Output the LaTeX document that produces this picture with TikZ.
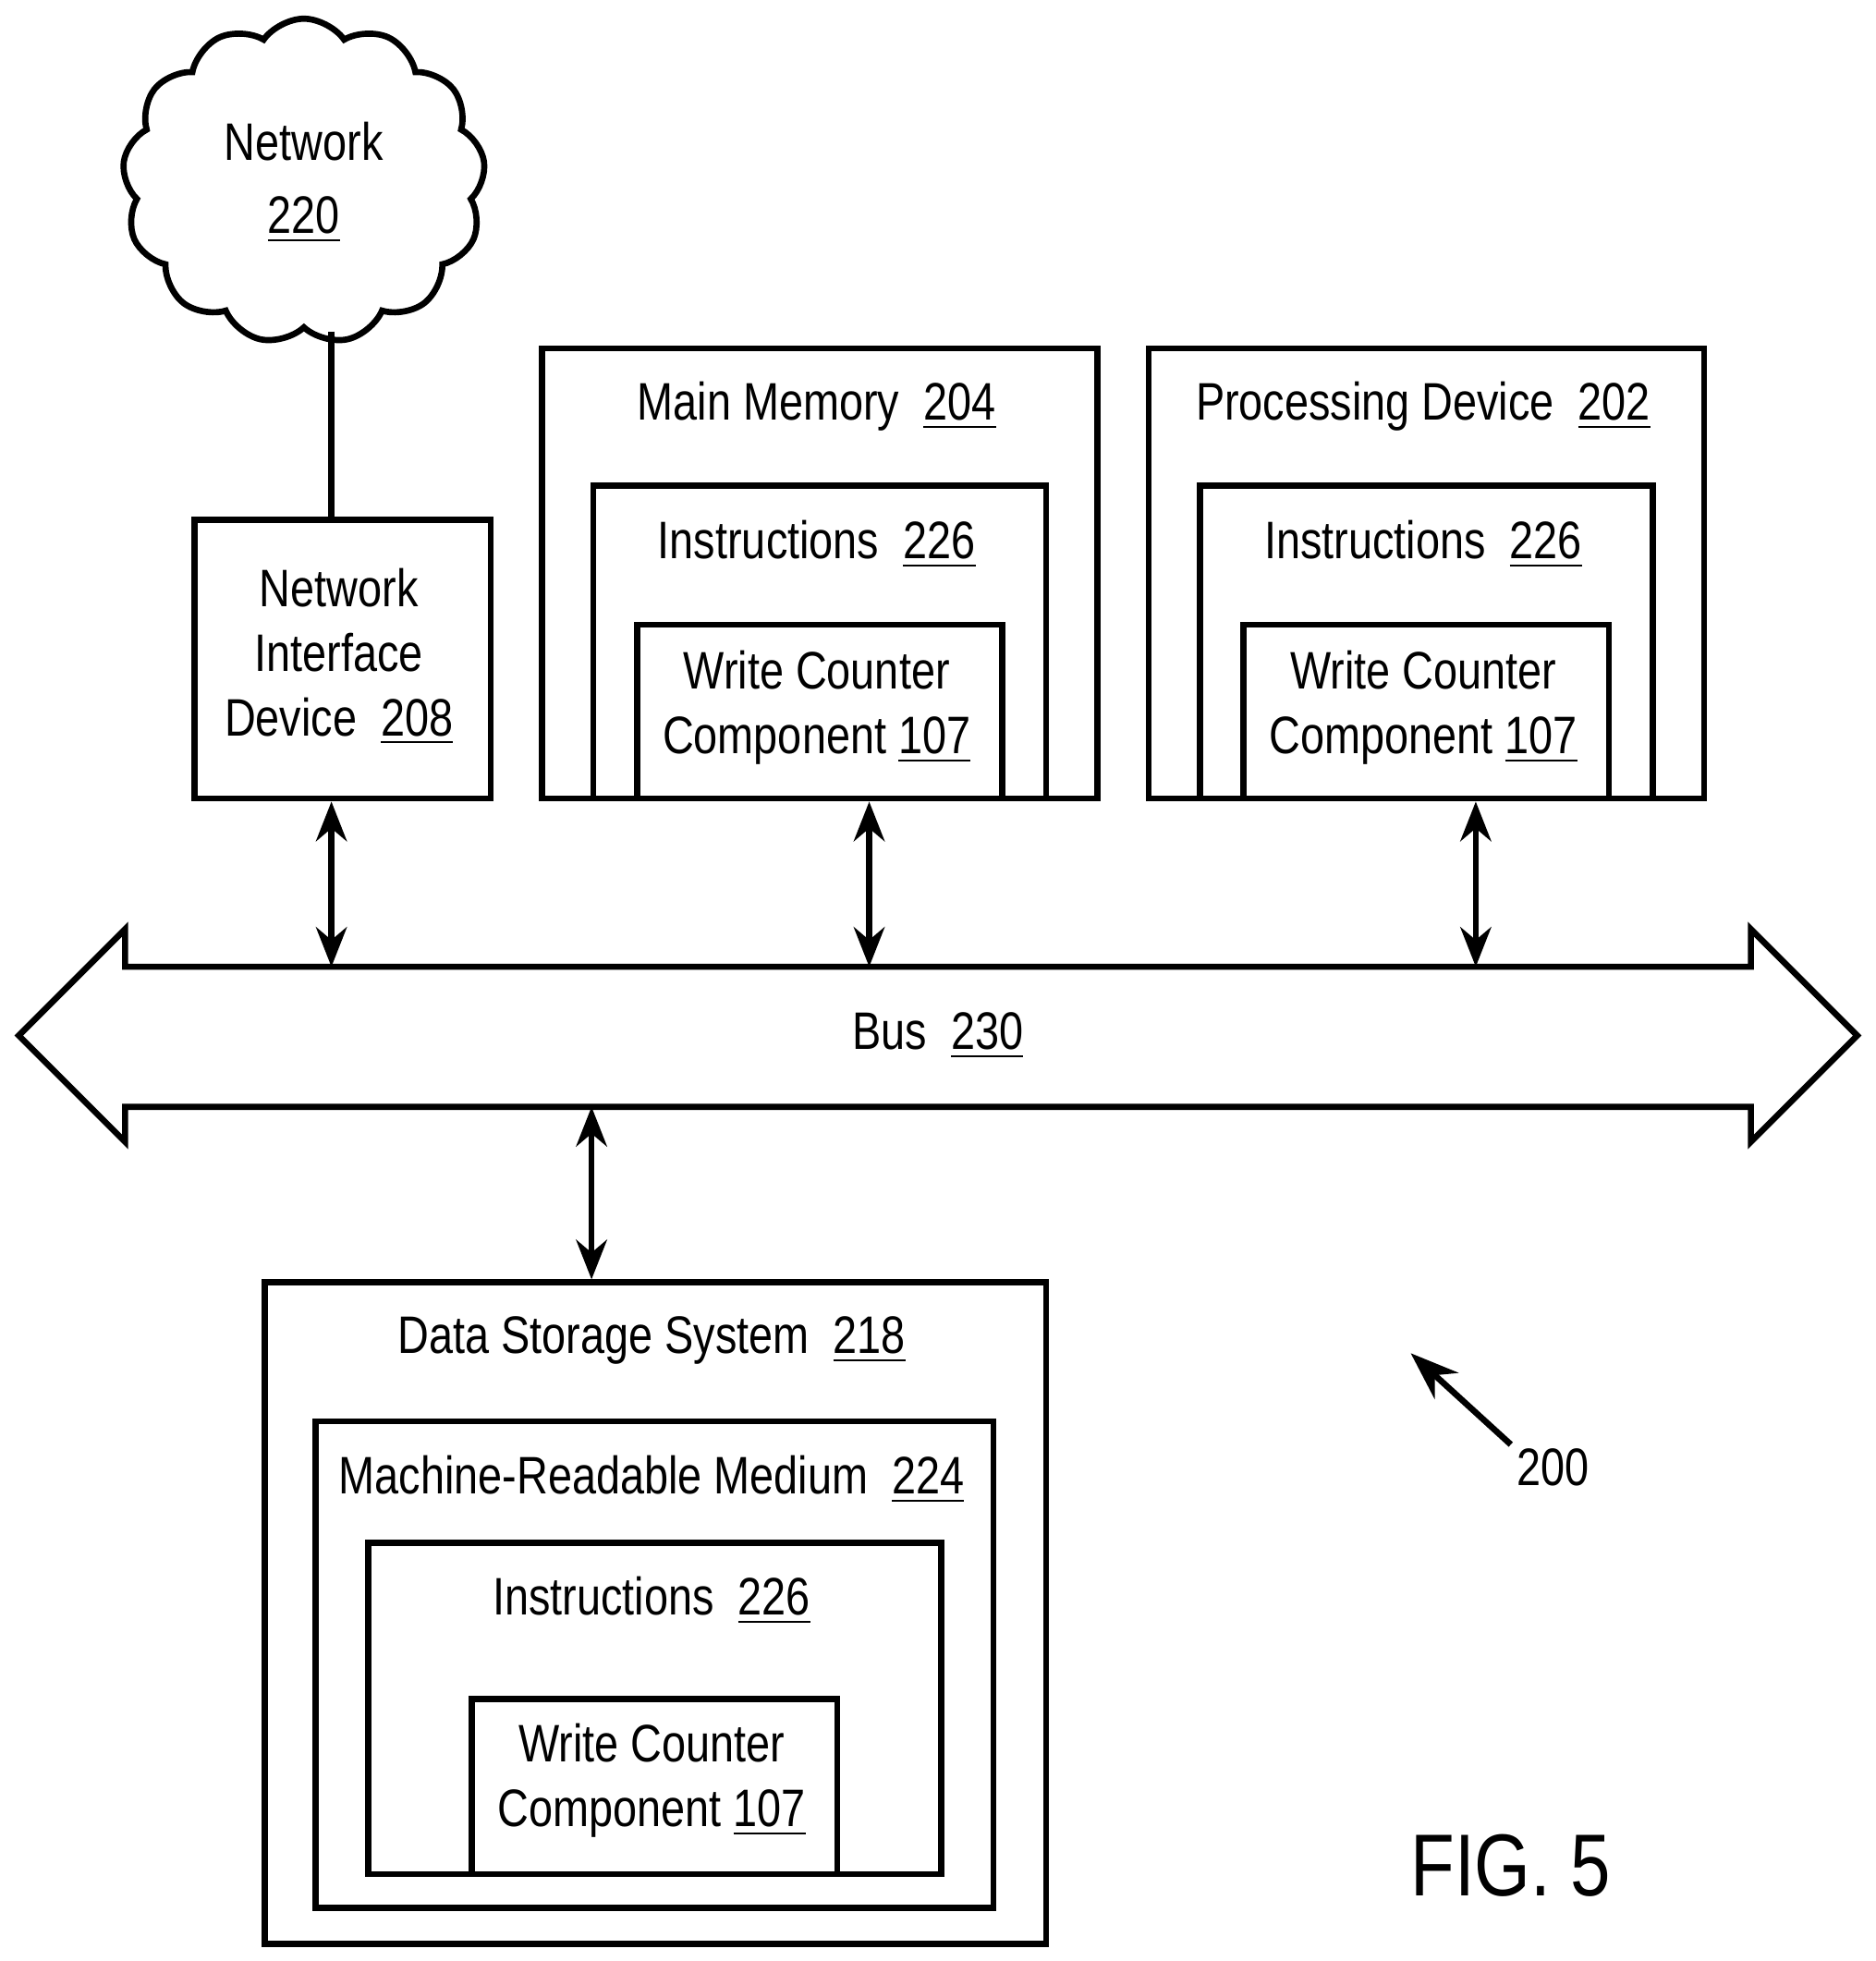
\documentclass[tikz,border=0pt]{standalone}
\usepackage{fontspec}
\setmainfont{Liberation Sans}[FakeStretch=0.82]
\usetikzlibrary{shapes.symbols,arrows.meta}
\begin{document}
\begin{tikzpicture}[x=0.01cm,y=-0.01cm,
  box/.style={draw,line width=1.4pt,anchor=north west,inner sep=0},
  lbl/.style={font=\fontsize{12}{14.7}\selectfont,align=center},
  conn/.style={line width=1.4pt,{Stealth[length=9pt,width=7pt]}-{Stealth[length=9pt,width=7pt]}}]
\useasboundingbox (0,0) rectangle (1500,1568);
\newcommand{\bx}[5]{\node[box,minimum width=#4*0.01cm,minimum height=#5*0.01cm] (#1) at (#2,#3) {};}
% cloud
\node[cloud,cloud puffs=13,cloud puff arc=110,draw,line width=1.4pt,minimum width=2.9cm,minimum height=2.6cm,aspect=1.1] (net) at (243,145) {};
\node[lbl] at (243,146) {Network\\[2pt]\underline{220}};
% NID
\bx{nid}{153}{413}{237}{223}
\node[lbl] at (271,525) {Network\\Interface\\Device\ \ \underline{208}};
\draw[line width=1.4pt] (net.south) ++(22,0) coordinate (c1) -- (c1 |- nid.north);
% main memory
\bx{mm}{431}{276}{444}{360}
\bx{mmi}{472}{386}{362}{250}
\bx{mmw}{507}{497}{292}{139}
\node[lbl] at (653,325) {Main Memory\ \ \underline{204}};
\node[lbl] at (653,435) {Instructions\ \ \underline{226}};
\node[lbl] at (653,566) {Write Counter\\Component \underline{107}};
% processing
\bx{pd}{916}{276}{444}{360}
\bx{pdi}{957}{386}{362}{250}
\bx{pdw}{992}{497}{292}{139}
\node[lbl] at (1138,325) {Processing Device\ \ \underline{202}};
\node[lbl] at (1138,435) {Instructions\ \ \underline{226}};
\node[lbl] at (1138,566) {Write Counter\\Component \underline{107}};
% bus
\draw[line width=1.4pt] (15,828)--(100,743)--(100,773)--(1400,773)--(1400,743)--(1485,828)--(1400,913)--(1400,885)--(100,885)--(100,913)--cycle;
\node[lbl] (bus) at (750,828) {Bus\ \ \underline{230}};
\coordinate (bt1) at (265,773); \coordinate (bt2) at (695,773); \coordinate (bt3) at (1180,773);
\coordinate (bb1) at (473,885);
\draw[conn] (nid.south -| bt1) -- (bt1);
\draw[conn] (mm.south -| bt2) -- (bt2);
\draw[conn] (pd.south -| bt3) -- (bt3);
% data storage
\bx{ds}{209}{1023}{625}{529}
\bx{mr}{250}{1134}{542}{389}
\bx{dsi}{292}{1231}{458}{265}
\bx{dsw}{375}{1356}{292}{140}
\draw[conn] (bb1) -- (bb1 |- ds.north);
\node[lbl] at (521,1072) {Data Storage System\ \ \underline{218}};
\node[lbl] at (521,1183) {Machine-Readable Medium\ \ \underline{224}};
\node[lbl] at (521,1280) {Instructions\ \ \underline{226}};
\node[lbl] at (521,1424) {Write Counter\\Component \underline{107}};
% ref
\node[lbl] (r200) at (1242,1173) {200};
\coordinate (a200) at (1128,1082);
\draw[line width=1.4pt,-{Stealth[length=11pt,width=8pt]}] (1208,1155) -- (a200);
\node[font=\fontsize{20}{24}\selectfont] (fig) at (1208,1492) {FIG. 5};
\end{tikzpicture}
\end{document}
